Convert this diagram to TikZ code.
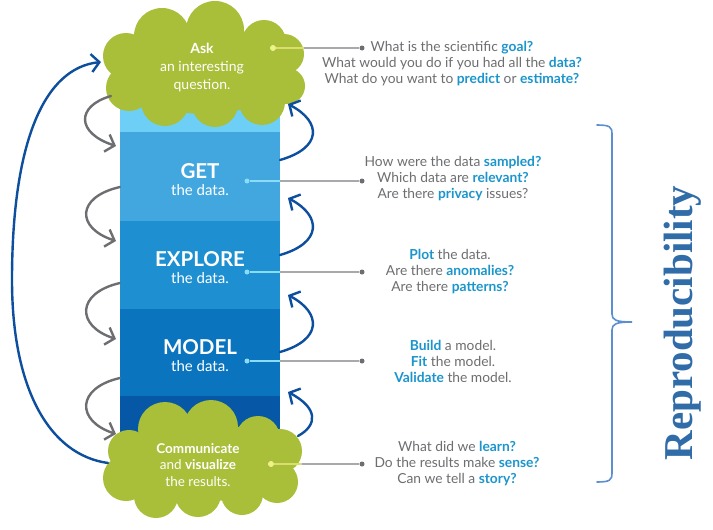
\documentclass[tikz,border=0pt]{standalone}
\usepackage{fontspec}
\setmainfont{Lato}
\newfontfamily\repfont{Liberation Serif}
\usetikzlibrary{arrows.meta}
\definecolor{cloudgreen}{HTML}{A9BE39}
\definecolor{bandA}{HTML}{6DCFF6}
\definecolor{bandB}{HTML}{42A7DF}
\definecolor{bandC}{HTML}{1E90D2}
\definecolor{bandD}{HTML}{0A75BE}
\definecolor{bandE}{HTML}{0657A5}
\definecolor{txtgray}{HTML}{6D6E71}
\definecolor{hlblue}{HTML}{1B95CC}
\definecolor{linegray}{HTML}{A7A9AC}
\definecolor{arrowgray}{HTML}{6D6E71}
\definecolor{arrowblue}{HTML}{0D4F9E}
\definecolor{bracecol}{HTML}{5B8FD1}
\definecolor{repcol}{HTML}{2F6CA8}
\definecolor{cyandot}{HTML}{8ADCF7}
\definecolor{yeldot}{HTML}{EEF28C}
\definecolor{yelline}{HTML}{D9DE6E}
\newcommand\hlq[1]{{\bfseries\color{hlblue}#1}}
\tikzset{
  band/.style={rectangle, draw=none, inner sep=0pt, minimum width=160pt, anchor=north west},
  bandtitle/.style={text=white, font=\fontsize{20.5}{21}\selectfont\bfseries, inner sep=0pt},
  bandsub/.style={text=white, font=\fontsize{15}{16}\selectfont, inner sep=0pt},
  cloudtxt/.style={text=white, align=center, inner sep=0pt},
  qtext/.style={text=txtgray, align=center, inner sep=0pt, font=\fontsize{13.8}{16}\selectfont},
  cdot/.style={circle, fill=cyandot, inner sep=0pt, minimum size=5pt},
  ydot/.style={circle, fill=yeldot, inner sep=0pt, minimum size=6pt},
  enddot/.style={circle, fill=txtgray, inner sep=0pt, minimum size=5pt},
  cline/.style={draw=cyandot, line width=1.1pt},
  yline/.style={draw=yelline, line width=1.1pt},
  gline/.style={draw=linegray, line width=1.1pt},
  garrow/.style={draw=arrowgray, line width=2.4pt, line cap=round, -{Straight Barb[length=8pt,width=18pt]}},
  barrow/.style={draw=arrowblue, line width=2.4pt, line cap=round, -{Straight Barb[length=8pt,width=18pt]}},
}
\begin{document}
\begin{tikzpicture}[x=1pt,y=-1pt]
\useasboundingbox[fill=white] (0,0) rectangle (713,530);

% column bands
\node[band, fill=bandA, minimum height=32pt] (band0) at (120,100) {};
\node[band, fill=bandB, minimum height=89pt] (getband) at (120,132) {};
\node[band, fill=bandC, minimum height=88pt] (expband) at (120,221) {};
\node[band, fill=bandD, minimum height=87pt] (modband) at (120,309) {};
\node[band, fill=bandE, minimum height=44pt] (band4) at (120,396) {};

\node[bandtitle] (gett) at (200,171) {GET};
\node[bandsub] (gets) at (200,190) {the data.};
\node[bandtitle] (expt) at (200,259) {EXPLORE};
\node[bandsub] (exps) at (200,278) {the data.};
\node[bandtitle] (modt) at (200,347) {MODEL};
\node[bandsub] (mods) at (200,366) {the data.};

% ask cloud
\begin{scope}[fill=cloudgreen]
\fill (205,70) ellipse [x radius=82, y radius=44];
\fill (162,36) circle [radius=28];
\fill (215,30) circle [radius=29];
\fill (264,42) circle [radius=22];
\fill (284,54) circle [radius=20];
\fill (287,86) circle [radius=18];
\fill (126,56) circle [radius=23];
\fill (129,88) circle [radius=23];
\fill (165,102) circle [radius=24];
\fill (215,104) circle [radius=23];
\fill (262,102) circle [radius=23];
% communicate cloud
\fill (200,462) ellipse [x radius=80, y radius=40];
\fill (165,429) circle [radius=27];
\fill (211,427) circle [radius=27];
\fill (258,438) circle [radius=22];
\fill (280,451) circle [radius=22];
\fill (129,451) circle [radius=21];
\fill (126,478) circle [radius=23];
\fill (277,482) circle [radius=21];
\fill (156,496) circle [radius=22];
\fill (198,494) circle [radius=23];
\fill (242,494) circle [radius=21];
\end{scope}

\node[cloudtxt, font=\fontsize{14}{18}\selectfont] (ask) at (202,67) {{\bfseries Ask}\\an interesting\\question.};
\node[cloudtxt, font=\fontsize{13.5}{16.5}\selectfont] (comm) at (198,465) {{\bfseries Communicate}\\and {\bfseries visualize}\\the results.};

% connectors
\node[ydot] (askdot) at (273,48) {};
\coordinate (askedge) at (304,48);
\node[enddot] (askend) at (362,48) {};
\draw[yline] (askdot) -- (askedge);
\draw[gline] (askedge) -- (askend);

\node[cdot] (getdot) at (247,181) {};
\coordinate (getedge) at (280,181);
\node[enddot] (getend) at (362,181) {};
\draw[cline] (getdot) -- (getedge);
\draw[gline] (getedge) -- (getend);

\node[cdot] (expdot) at (247,272) {};
\coordinate (expedge) at (280,272);
\node[enddot] (expend) at (362,272) {};
\draw[cline] (expdot) -- (expedge);
\draw[gline] (expedge) -- (expend);

\node[cdot] (moddot) at (247,361) {};
\coordinate (modedge) at (280,361);
\node[enddot] (modend) at (362,361) {};
\draw[cline] (moddot) -- (modedge);
\draw[gline] (modedge) -- (modend);

\node[ydot] (comdot) at (271,464) {};
\coordinate (comedge) at (302,464);
\node[enddot] (comend) at (362,464) {};
\draw[yline] (comdot) -- (comedge);
\draw[gline] (comedge) -- (comend);

% question texts
\node[qtext] (askq) at (452,64) {What is the scientific \hlq{goal?}\\What would you do if you had all the \hlq{data?}\\What do you want to \hlq{predict} or \hlq{estimate?}};
\node[qtext] (getq) at (453,179) {How were the data \hlq{sampled?}\\Which data are \hlq{relevant?}\\Are there \hlq{privacy} issues?};
\node[qtext] (expq) at (450,272) {\hlq{Plot} the data.\\Are there \hlq{anomalies?}\\Are there \hlq{patterns?}};
\node[qtext] (modq) at (453,361) {\hlq{Build} a model.\\\hlq{Fit} the model.\\\hlq{Validate} the model.};
\node[qtext] (comq) at (457,464) {What did we \hlq{learn?}\\Do the results make \hlq{sense?}\\Can we tell a \hlq{story?}};

% gray arrows (left)
\coordinate (g1s) at (111,96);  \coordinate (g1e) at (116,146);
\coordinate (g2s) at (120,187); \coordinate (g2e) at (116,241);
\coordinate (g3s) at (120,283); \coordinate (g3e) at (116,339);
\coordinate (g4s) at (120,378); \coordinate (g4e) at (116,434);
\draw[garrow] (g1s) .. controls (76,106) and (76,133) .. (g1e);
\draw[garrow] (g2s) .. controls (76,197) and (76,228) .. (g2e);
\draw[garrow] (g3s) .. controls (76,293) and (76,326) .. (g3e);
\draw[garrow] (g4s) .. controls (76,388) and (76,421) .. (g4e);

% blue arrows (right)
\coordinate (b1s) at (280,160); \coordinate (b1e) at (288,104);
\coordinate (b2s) at (280,255); \coordinate (b2e) at (288,198);
\coordinate (b3s) at (280,352); \coordinate (b3e) at (288,295);
\coordinate (b4s) at (298,436); \coordinate (b4e) at (288,392);
\draw[barrow] (b1s) .. controls (322,148) and (322,122) .. (b1e);
\draw[barrow] (b2s) .. controls (322,243) and (322,216) .. (b2e);
\draw[barrow] (b3s) .. controls (322,340) and (322,313) .. (b3e);
\draw[barrow] (b4s) .. controls (318,425) and (318,408) .. (b4e);

% big loop arrow
\coordinate (loopS) at (108,463);
\coordinate (loopM) at (12,280);
\coordinate (loopE) at (101,62);
\draw[barrow] (loopS) .. controls (50,455) and (12,390) .. (loopM) .. controls (12,140) and (45,68) .. (loopE);

% brace
\coordinate (brTop) at (597,125);
\coordinate (brTip) at (632,322);
\coordinate (brBot) at (597,482);
\draw[draw=bracecol, line width=1.6pt, line cap=round]
  (brTop) .. controls (610,125) and (612,127) .. (612,134) -- (612,314)
  .. controls (612,320) and (616,322) .. (brTip)
  .. controls (616,322) and (612,324) .. (612,330) -- (612,473)
  .. controls (612,480) and (610,482) .. (brBot);

\node[text=repcol, font=\repfont\bfseries\fontsize{41}{41}\selectfont, rotate=90, inner sep=0pt] (rep) at (683,323) {Reproducibility};
\end{tikzpicture}
\end{document}
